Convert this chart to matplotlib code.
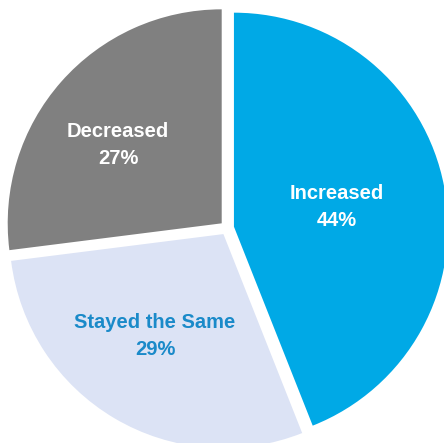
import matplotlib
matplotlib.use("Agg")
import matplotlib.pyplot as plt

categories = ["Increased", "Stayed the Same", "Decreased"]
values = [44, 29, 27]
colors = ["#00A9E6", "#DCE3F5", "#808080"]
text_colors = ["white", "#1A8AC9", "white"]

W, H = 444, 443
R = 214.0
cx, cy = 227.0, 228.0

fig = plt.figure(figsize=(W / 100, H / 100), dpi=100)
ax = fig.add_axes([0, 0, 1, 1])
ax.set_aspect("equal")
ax.axis("off")

wedges, texts = ax.pie(values, colors=colors, startangle=90, counterclock=False,
                       explode=[0.033] * 3, radius=1.0, center=(0, 0),
                       wedgeprops=dict(linewidth=0))
ax.set_xlim(-cx / R, (W - cx) / R)
ax.set_ylim(-(H - cy) / R, cy / R)

label_pos = [(337, 207), (155, 336), (118, 145)]
for (px, py), cat, v, tc in zip(label_pos, categories, values, text_colors):
    x = (px - cx) / R
    y = (cy - py) / R
    ax.text(x, y, f"{cat}\n{v}%", ha="center", va="center", color=tc,
            fontsize=14.5, fontweight="bold", family="Liberation Sans",
            linespacing=1.55)

fig.savefig("out.png", dpi=100)
